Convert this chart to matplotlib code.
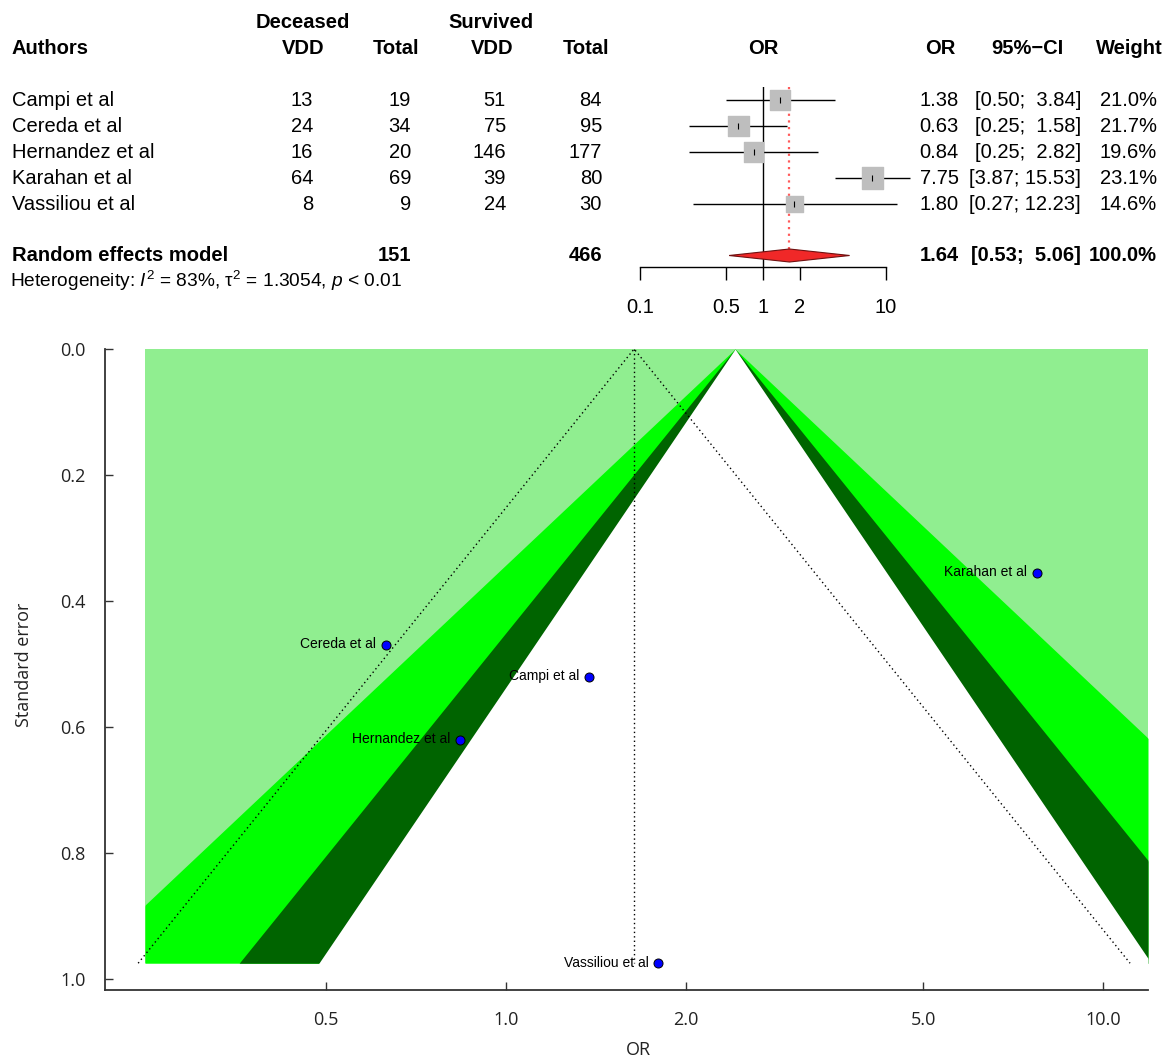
import numpy as np
import matplotlib
matplotlib.use("Agg")
import matplotlib.pyplot as plt

# datos del forest plot
authors = ["Campi et al", "Cereda et al", "Hernandez et al", "Karahan et al", "Vassiliou et al"]
dec_vdd = [13, 24, 16, 64, 8]
dec_total = [19, 34, 20, 69, 9]
surv_vdd = [51, 75, 146, 39, 24]
surv_total = [84, 95, 177, 80, 30]
or_est = [1.38, 0.63, 0.84, 7.75, 1.80]
ci_lo = [0.50, 0.25, 0.25, 3.87, 0.27]
ci_hi = [3.84, 1.58, 2.82, 15.53, 12.23]
weight = [21.0, 21.7, 19.6, 23.1, 14.6]
pooled_or = 1.64
pooled_lo = 0.53
pooled_hi = 5.06
pooled_dec_total = 151
pooled_surv_total = 466
forest_ticks = [0.1, 0.5, 1, 2, 10]
forest_ticklabels = ["0.1", "0.5", "1", "2", "10"]

# datos del funnel plot
std_err = [0.52, 0.47, 0.62, 0.355, 0.975]
contour_center = 2.42
contour_z = [2.576, 1.96, 1.645]
contour_colors = ["#00FF00", "#006400", "white"]
funnel_xticks = [0.5, 1.0, 2.0, 5.0, 10.0]
funnel_xticklabels = ["0.5", "1.0", "2.0", "5.0", "10.0"]
funnel_yticks = [0.0, 0.2, 0.4, 0.6, 0.8, 1.0]

plt.rcParams['font.family'] = ['Liberation Sans', 'DejaVu Sans']
plt.rcParams['mathtext.fontset'] = 'custom'
plt.rcParams['mathtext.rm'] = 'Liberation Sans'
plt.rcParams['mathtext.it'] = 'Liberation Sans:italic'
plt.rcParams['mathtext.bf'] = 'Liberation Sans:bold'

W, H = 1164, 1061
fig = plt.figure(figsize=(W / 100, H / 100), dpi=100)

def fx(px):
    return px / W

def fy(py):
    return 1 - py / H

fs = 14.5

def txt(x, y, s, ha='left', bold=False, size=fs):
    fig.text(fx(x), fy(y), s, ha=ha, va='center', fontsize=size,
             fontweight='bold' if bold else 'normal')

# encabezados
txt(12, 48, "Authors", bold=True)
txt(303, 22, "Deceased", ha='center', bold=True)
txt(303, 48, "VDD", ha='center', bold=True)
txt(396, 48, "Total", ha='center', bold=True)
txt(491, 22, "Survived", ha='center', bold=True)
txt(492, 48, "VDD", ha='center', bold=True)
txt(586, 48, "Total", ha='center', bold=True)
txt(763, 48, "OR", ha='center', bold=True)
txt(940, 48, "OR", ha='center', bold=True)
txt(1027, 48, "95%\u2212CI", ha='center', bold=True)
txt(1129, 48, "Weight", ha='center', bold=True)

row_px = [100, 126.5, 152.5, 178, 204]
for i in range(len(authors)):
    y = row_px[i]
    txt(12, y, authors[i])
    txt(313, y, str(dec_vdd[i]), ha='right')
    txt(411, y, str(dec_total[i]), ha='right')
    txt(506, y, str(surv_vdd[i]), ha='right')
    txt(602, y, str(surv_total[i]), ha='right')
    txt(959, y, f"{or_est[i]:.2f}", ha='right')
    txt(1081, y, f"[{ci_lo[i]:.2f}; {ci_hi[i]:5.2f}]", ha='right')
    txt(1157, y, f"{weight[i]:.1f}%", ha='right')

sum_y = 255.5
txt(12, sum_y, "Random effects model", bold=True)
txt(411, sum_y, str(pooled_dec_total), ha='right', bold=True)
txt(602, sum_y, str(pooled_surv_total), ha='right', bold=True)
txt(959, sum_y, f"{pooled_or:.2f}", ha='right', bold=True)
txt(1081, sum_y, f"[{pooled_lo:.2f}; {pooled_hi:5.2f}]", ha='right', bold=True)
txt(1157, sum_y, f"{sum(weight):.1f}%", ha='right', bold=True)
txt(10, 281, r"Heterogeneity: $\mathit{I}^2$ = 83%, $\mathregular{τ}^2$ = 1.3054, $\mathit{p}$ < 0.01",
    size=13.8)

# forest plot
top_px, bot_px = 87, 267
axf = fig.add_axes([fx(640), fy(bot_px), fx(886) - fx(640), (bot_px - top_px) / H])
rows = np.arange(len(authors))
ybot = (bot_px - row_px[0]) / 26
ytop = (top_px - row_px[0]) / 26
sum_row = (sum_y - row_px[0]) / 26
axf.set_xscale('log')
axf.set_xlim(0.1, 10)
axf.set_ylim(ybot, ytop)
axf.set_facecolor('none')
for s in ['top', 'right', 'left']:
    axf.spines[s].set_visible(False)
axf.spines['bottom'].set_linewidth(1.0)
axf.set_yticks([])
axf.set_xticks(forest_ticks)
axf.set_xticklabels(forest_ticklabels, fontsize=fs)
axf.minorticks_off()
axf.tick_params(axis='x', direction='out', length=9.5, width=1.0, pad=13)

axf.axvline(1, color='black', lw=1.0, zorder=1)
axf.vlines(pooled_or, ytop, sum_row - 0.25, colors='#ff5a5a', linestyles=(0, (1, 2)), lw=1.6, zorder=1)
axf.hlines(rows, ci_lo, ci_hi, colors='black', lw=1.0, zorder=2, clip_on=False)
sizes = [235 * w / max(weight) for w in weight]
axf.scatter(or_est, rows, s=sizes, marker='s', color='#BEBEBE', zorder=3, clip_on=False)
axf.scatter(or_est, rows, s=25, marker='|', color='black', linewidths=0.8, zorder=4)
axf.fill([pooled_lo, pooled_or, pooled_hi, pooled_or],
         [sum_row, sum_row - 0.25, sum_row, sum_row + 0.25],
         facecolor='#F02828', edgecolor='#701010', lw=0.8, zorder=3)

# funnel plot
ax = fig.add_axes([fx(105), fy(990), fx(1148) - fx(105), (990 - 349) / H])
ax.set_xscale('log')
ax.set_xlim(0.2135, 11.88)
ax.set_ylim(1.0175, 0)
x_left, x_right = 0.249, 11.88
se_max = max(std_err)
se_grid = np.linspace(0, se_max, 400)
for z, col in zip([99.0] + contour_z, ["#90EE90"] + contour_colors):
    g = se_grid if col != "white" else np.linspace(0, se_max + 0.004, 400)
    lo = np.clip(contour_center * np.exp(-z * g), x_left, x_right)
    hi = np.clip(contour_center * np.exp(z * g), x_left, x_right)
    if z > 50:
        lo, hi = np.full_like(g, x_left), np.full_like(g, x_right)
    ax.fill_betweenx(g, lo, hi, color=col, lw=0, zorder=2)

dot = (0, (1, 2.2))
ax.plot([pooled_or * np.exp(-1.96 * se_max), pooled_or, pooled_or * np.exp(1.96 * se_max)],
        [se_max, 0, se_max], color='black', lw=1.0, ls=dot, zorder=3)
ax.plot([pooled_or, pooled_or], [0, se_max], color='black', lw=1.0, ls=dot, zorder=3)

ax.plot(or_est, std_err, 'o', mfc='blue', mec='black', ms=6.5, mew=0.7, zorder=5)
for name, o, s in zip(authors, or_est, std_err):
    ax.annotate(name, (o, s), xytext=(-7, 0.5), textcoords='offset points',
                ha='right', va='center', fontsize=10, zorder=6)

for s in ['top', 'right']:
    ax.spines[s].set_visible(False)
for s in ['left', 'bottom']:
    ax.spines[s].set_color('#333333')
    ax.spines[s].set_linewidth(1.3)
ax.set_xticks(funnel_xticks)
ax.set_xticklabels(funnel_xticklabels)
ax.minorticks_off()
ax.set_yticks(funnel_yticks)
ax.set_yticklabels([f"{v:.1f}" for v in funnel_yticks])
ax.tick_params(direction='in', length=6, width=1.0, color='#333333',
               labelsize=13, labelcolor='#222222')
ax.tick_params(axis='x', pad=15)
ax.tick_params(axis='y', pad=14)
for lab in ax.get_xticklabels() + ax.get_yticklabels():
    lab.set_fontfamily('Open Sans')
ax.set_xlabel("OR", fontsize=13, fontfamily='Open Sans', color='#222222')
ax.set_ylabel("Standard error", fontsize=13, fontfamily='Open Sans', color='#222222')
ax.xaxis.set_label_coords((638 - 105) / (1148 - 105), (990 - 1041) / (990 - 349))
ax.yaxis.set_label_coords((33 - 105) / (1148 - 105), (990 - 665) / (990 - 349))

fig.savefig("out.png", dpi=100)
